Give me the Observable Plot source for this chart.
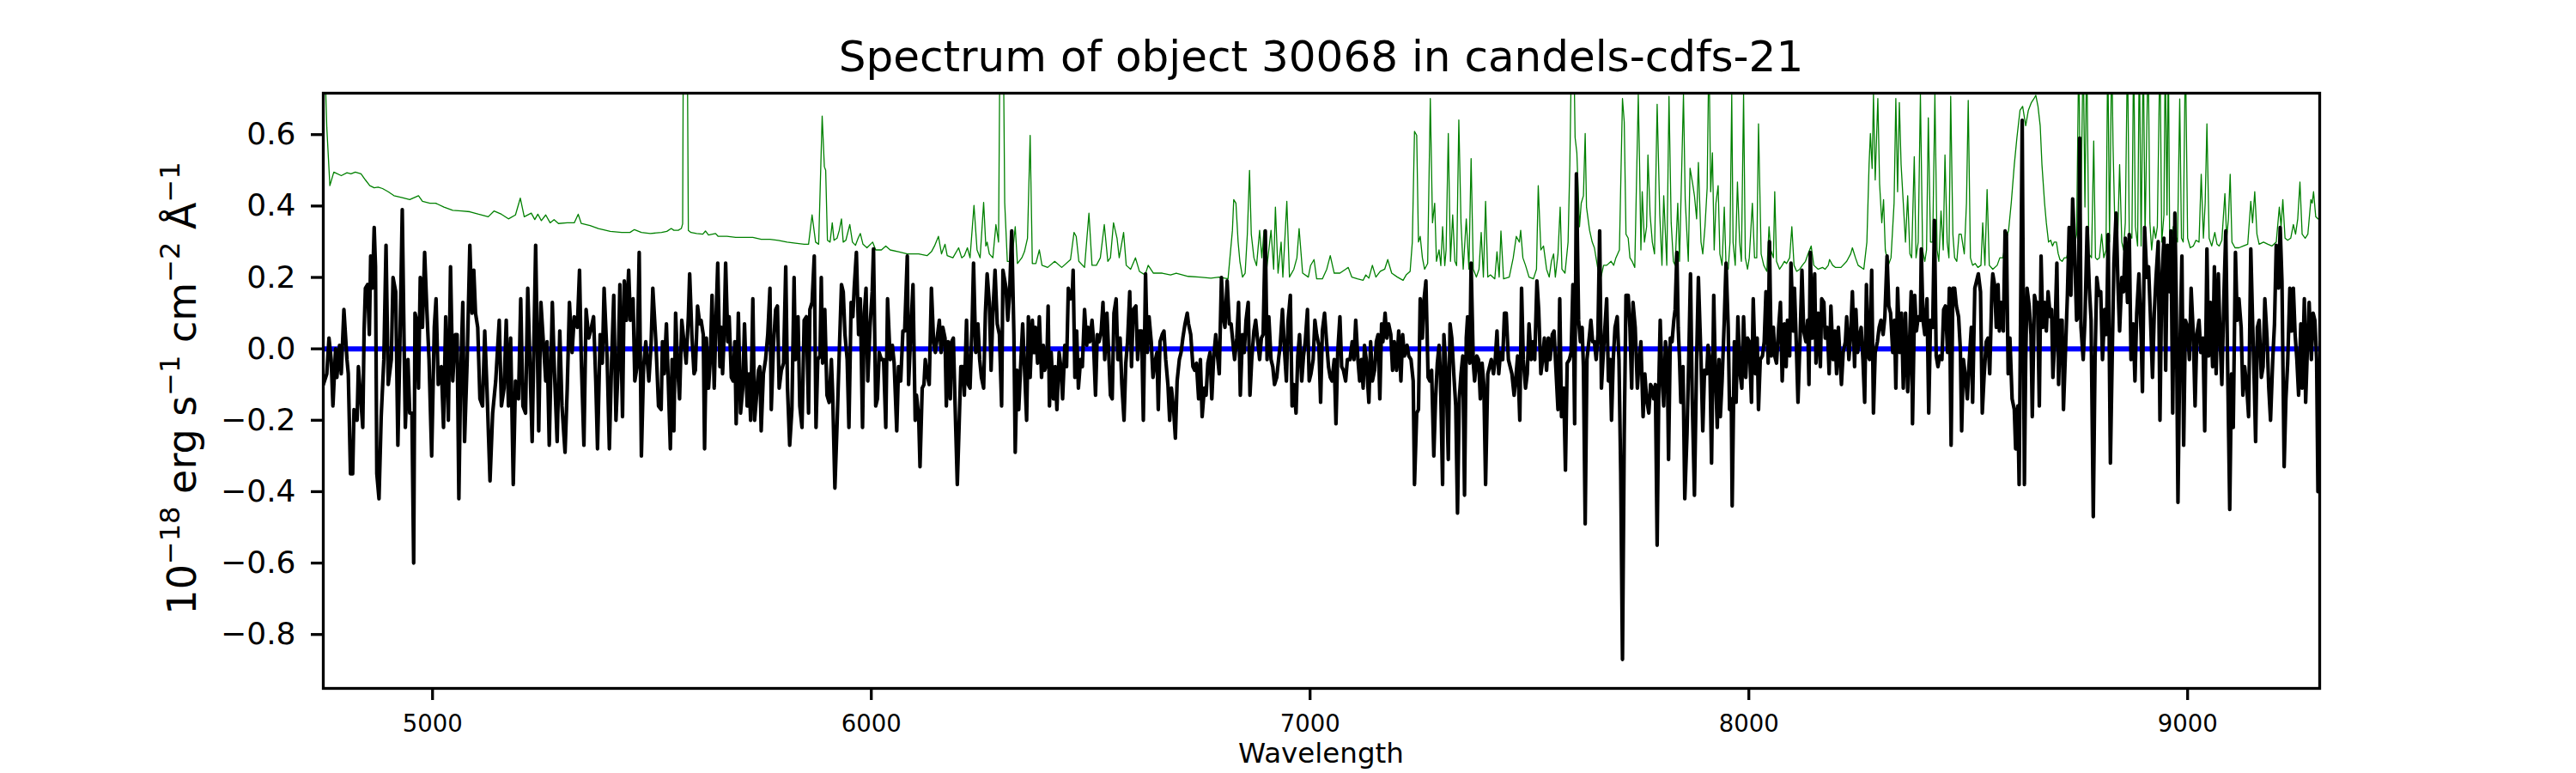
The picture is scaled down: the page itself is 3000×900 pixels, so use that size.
<!DOCTYPE html>
<html>
<head>
<meta charset="utf-8">
<script src="https://cdn.jsdelivr.net/npm/d3@7"></script>
<script src="https://cdn.jsdelivr.net/npm/@observablehq/plot@0.6"></script>
<style>
  html, body { margin: 0; padding: 0; background: #fff; }
  #chart { width: 3000px; height: 900px; position: relative; overflow: hidden; }
</style>
</head>
<body>
<div id="chart"></div>
<script>
// ---------- text ----------
const titleText = "Spectrum of object 30068 in candels-cdfs-21";
const xLabelText = "Wavelength";
const xTicks = [5000, 6000, 7000, 8000, 9000];
const yTicks = [-0.8, -0.6, -0.4, -0.2, 0.0, 0.2, 0.4, 0.6];
const xDomain = [4751, 9301];
const yDomain = [-0.951, 0.716];
const zeroLevel = [0];

// ---------- observed flux (black), [wavelength, flux] ----------
const black1 = [[4751,-0.10],[4759,-0.07],[4764,0.03],[4769,-0.03],[4773,-0.16],[4779,0.00],[4782,-0.08],[4788,0.01],[4792,-0.07],[4798,0.11],[4805,-0.03],[4808,-0.07],[4813,-0.35],[4818,-0.35],[4821,-0.17],[4828,-0.20],[4831,-0.05],[4837,-0.15],[4841,-0.22],[4844,0.05],[4847,0.17],[4852,0.18],[4856,0.04],[4859,0.26],[4863,0.17],[4867,0.34],[4870,0.23],[4873,-0.35],[4878,-0.42],[4883,-0.19],[4889,-0.03],[4894,0.29],[4899,-0.10],[4906,-0.03],[4910,0.20],[4916,0.16],[4921,-0.27],[4925,-0.03],[4931,0.39],[4935,0.03],[4938,-0.22],[4944,-0.03],[4948,-0.18],[4953,-0.18],[4957,-0.60],[4960,0.10],[4964,0.08],[4968,-0.11],[4972,0.20],[4977,0.06],[4982,0.27],[4987,0.11],[4992,-0.03],[4998,-0.30],[5004,0.06],[5008,0.14],[5013,-0.10],[5020,-0.05],[5025,-0.22],[5030,0.09],[5036,-0.20],[5041,0.23],[5046,-0.09],[5052,0.04],[5056,0.04],[5060,-0.42],[5064,-0.08],[5069,0.13],[5073,-0.26],[5079,-0.03],[5085,0.29],[5090,0.10],[5094,0.22],[5098,0.10],[5103,0.06],[5108,-0.14],[5114,-0.16],[5119,0.05],[5124,-0.11],[5131,-0.37],[5137,-0.18],[5144,-0.09],[5152,0.08],[5157,-0.16],[5163,-0.11],[5168,0.08],[5173,-0.16],[5178,0.03],[5184,-0.38],[5189,-0.09],[5196,-0.14],[5201,0.14],[5206,-0.16],[5212,-0.18],[5217,0.17],[5222,-0.04],[5227,-0.26],[5235,0.29],[5242,-0.23],[5247,0.13],[5252,0.03],[5258,-0.09],[5261,0.02],[5266,-0.27],[5273,0.13],[5278,-0.07],[5284,-0.26],[5290,0.05],[5295,-0.16],[5302,-0.29],[5307,-0.11],[5312,0.13],[5318,-0.01],[5323,0.09],[5330,0.06],[5335,0.22],[5339,-0.03],[5345,-0.27],[5350,0.11],[5356,0.03],[5362,0.06],[5367,0.09],[5372,-0.09],[5376,-0.28],[5382,0.04],[5387,-0.04],[5391,0.17],[5398,-0.03],[5403,-0.28],[5408,-0.04],[5413,0.15],[5418,-0.20],[5423,-0.05],[5427,0.18],[5433,-0.19],[5437,0.19],[5442,0.08],[5447,0.22],[5451,0.08],[5457,0.14],[5461,-0.09],[5466,-0.05],[5471,0.27],[5476,-0.30],[5481,-0.05],[5486,0.02],[5493,-0.09],[5498,0.01],[5502,0.17],[5509,0.02],[5515,-0.16],[5521,-0.17]];
const black2 = [[5524,0.02],[5528,-0.07],[5533,0.07],[5537,-0.08],[5542,-0.28],[5546,-0.03],[5550,-0.23],[5554,0.10],[5559,-0.06],[5563,-0.14],[5568,0.08],[5573,0.02],[5578,-0.04],[5583,0.09],[5586,0.21],[5591,0.04],[5596,-0.07],[5599,-0.06],[5604,0.12],[5609,0.07],[5612,0.08],[5617,0.04],[5620,-0.28],[5624,0.03],[5629,-0.11],[5633,-0.03],[5637,0.15],[5642,-0.11],[5645,0.04],[5650,0.24],[5655,-0.05],[5658,0.06],[5661,-0.07],[5664,0.02],[5668,0.24],[5673,0.02],[5676,0.09],[5681,-0.08],[5685,-0.09],[5689,0.02],[5692,-0.21],[5697,0.10],[5702,-0.18],[5707,-0.11],[5711,0.07],[5717,-0.16],[5721,-0.07],[5725,-0.20],[5730,0.14],[5734,-0.20],[5738,-0.14],[5743,-0.06],[5746,-0.05],[5749,-0.23],[5754,-0.07],[5759,-0.03],[5764,0.04],[5769,0.17],[5772,-0.17],[5777,0.01],[5782,0.11],[5786,0.12],[5790,-0.11],[5795,-0.06],[5800,-0.04],[5805,0.23],[5809,-0.11],[5814,-0.27],[5819,-0.17],[5824,0.20],[5827,-0.03],[5833,0.09],[5837,-0.16],[5842,-0.22],[5847,0.08],[5852,0.09],[5857,-0.18],[5860,0.11],[5865,0.13],[5870,0.26],[5874,-0.22],[5878,-0.03],[5883,-0.02],[5886,0.20],[5889,-0.04],[5894,0.11],[5899,-0.13],[5904,-0.15],[5909,-0.03],[5912,-0.13],[5917,-0.39],[5922,-0.21],[5927,-0.01],[5932,0.18],[5936,0.16],[5940,0.04],[5945,-0.03],[5949,-0.22],[5954,0.13],[5958,0.09],[5961,0.17],[5966,0.27],[5971,0.04],[5975,0.14],[5980,-0.22],[5984,0.10],[5988,0.17],[5992,-0.09],[5997,0.06],[6002,0.16],[6005,0.28],[6010,-0.16],[6014,-0.14],[6018,-0.01],[6023,-0.03],[6028,-0.03],[6033,-0.22],[6037,0.14],[6043,-0.03],[6048,0.01],[6052,-0.04],[6058,-0.23],[6062,-0.05],[6067,-0.09],[6072,0.05],[6076,0.05],[6082,0.26],[6085,-0.10],[6090,0.05],[6095,0.18],[6100,-0.20],[6103,-0.13],[6108,-0.19],[6111,-0.33],[6116,-0.11],[6120,-0.10],[6123,-0.03],[6127,-0.07],[6132,-0.10],[6137,0.17],[6142,0.02],[6146,-0.01],[6150,0.03],[6155,0.08],[6159,-0.01],[6163,0.06],[6168,0.03],[6171,-0.16],[6175,0.02],[6180,-0.14],[6183,0.02],[6187,0.03],[6191,-0.16],[6196,-0.38],[6200,-0.22],[6204,-0.05],[6209,-0.05],[6212,-0.13],[6217,0.08],[6221,-0.10],[6225,-0.11],[6230,0.08],[6233,0.24],[6238,-0.01],[6243,0.07],[6247,-0.03],[6251,-0.08],[6256,-0.11],[6260,0.10],[6264,0.21],[6269,0.13],[6273,-0.06],[6277,0.10],[6282,0.22],[6287,0.07],[6292,0.04],[6297,-0.16],[6300,0.22]];
const black3 = [[6307,0.17],[6311,0.08],[6315,0.15],[6320,0.33],[6325,0.04],[6328,-0.29],[6332,-0.06],[6336,-0.17],[6341,-0.03],[6345,0.07],[6349,-0.05],[6354,-0.20],[6358,0.09],[6362,-0.08],[6367,0.08],[6371,-0.01],[6374,0.06],[6379,-0.04],[6383,0.09],[6388,-0.08],[6392,0.01],[6395,-0.06],[6400,-0.04],[6403,0.12],[6406,-0.16],[6410,-0.01],[6415,-0.14],[6419,-0.05],[6423,-0.17],[6428,-0.01],[6432,-0.05],[6436,-0.14],[6441,0.01],[6445,-0.05],[6449,0.17],[6454,0.14],[6458,0.15],[6460,0.22],[6464,-0.08],[6468,0.05],[6472,-0.11],[6477,-0.03],[6481,-0.05],[6486,0.11],[6491,0.01],[6494,0.06],[6498,0.02],[6503,0.08],[6506,0.03],[6511,-0.13],[6515,0.04],[6519,0.02],[6524,0.05],[6528,0.13],[6532,-0.03],[6537,0.10],[6541,-0.01],[6545,-0.13],[6549,-0.14],[6553,0.10],[6558,0.14],[6562,-0.03],[6567,0.03],[6571,-0.10],[6576,-0.20],[6580,-0.04],[6584,0.02],[6589,0.16],[6593,-0.05],[6597,0.11],[6603,0.12],[6607,-0.03],[6611,0.05],[6616,0.05],[6620,-0.20],[6625,0.21],[6629,-0.01],[6633,0.09],[6638,0.02],[6642,-0.08],[6646,-0.04],[6651,-0.01],[6654,-0.17],[6658,0.02],[6663,0.04],[6667,0.05],[6671,-0.03],[6676,-0.10],[6680,-0.20],[6684,-0.11],[6689,-0.17],[6693,-0.25],[6697,-0.09],[6702,-0.03],[6706,-0.01],[6710,0.03],[6715,0.07],[6720,0.10],[6723,0.07],[6728,0.04],[6733,-0.05],[6737,-0.06],[6741,-0.04],[6746,-0.14],[6750,-0.03],[6754,-0.19],[6759,-0.11],[6763,-0.13],[6767,-0.04],[6772,-0.01],[6776,-0.14],[6780,-0.03],[6785,0.04],[6789,-0.02],[6793,-0.07],[6798,0.20],[6802,0.09],[6806,0.06],[6811,0.19],[6816,0.07],[6820,0.07],[6824,0.02],[6828,-0.03],[6833,0.03],[6837,0.13],[6841,-0.13],[6846,0.04],[6850,-0.01],[6854,0.08],[6859,0.13],[6863,-0.13],[6867,-0.03],[6872,0.05],[6876,0.08],[6880,0.03],[6885,-0.03],[6889,0.03],[6893,0.04],[6898,0.33],[6902,-0.03],[6906,0.09],[6911,-0.03],[6915,-0.05],[6919,-0.10],[6924,-0.08],[6929,-0.02],[6932,0.01],[6937,0.11],[6942,-0.01],[6946,-0.09],[6950,0.08],[6955,0.15],[6959,-0.16],[6963,-0.10],[6968,-0.18],[6972,-0.02],[6976,0.04],[6981,-0.09],[6985,-0.02],[6989,0.02],[6994,0.11],[6998,-0.09],[7002,-0.07],[7007,-0.03],[7011,0.08],[7015,0.04],[7020,0.01],[7024,-0.15],[7028,0.05],[7033,0.10],[7037,0.03],[7042,-0.05],[7046,-0.08],[7050,-0.09],[7055,-0.03],[7059,-0.21],[7063,-0.01],[7068,0.09],[7072,-0.05],[7076,-0.06],[7081,-0.09],[7085,-0.03]];
const black4 = [[7091,-0.03],[7096,0.02],[7100,-0.03],[7104,0.08],[7109,-0.03],[7113,-0.09],[7117,-0.03],[7121,-0.11],[7124,0.01],[7128,-0.03],[7134,-0.15],[7138,0.02],[7142,-0.09],[7147,-0.06],[7151,0.02],[7155,0.04],[7159,-0.14],[7163,0.07],[7166,0.02],[7171,0.10],[7175,0.03],[7179,0.07],[7184,0.04],[7188,-0.06],[7192,0.02],[7197,-0.06],[7202,0.05],[7207,-0.09],[7211,0.04],[7215,-0.02],[7221,0.01],[7225,-0.02],[7230,-0.03],[7235,-0.09],[7238,-0.38],[7243,-0.18],[7247,-0.17],[7251,0.14],[7256,0.03],[7259,0.13],[7264,0.19],[7269,-0.08],[7273,-0.09],[7277,-0.06],[7282,-0.30],[7286,-0.14],[7290,-0.04],[7294,0.01],[7297,-0.07],[7302,-0.38],[7305,0.04],[7310,-0.06],[7315,-0.31],[7319,0.07],[7323,0.03],[7328,-0.08],[7332,-0.16],[7336,-0.46],[7340,-0.14],[7344,-0.07],[7348,-0.02],[7352,-0.41],[7356,0.03],[7359,0.09],[7364,-0.04],[7367,0.24],[7372,-0.04],[7375,-0.09],[7380,-0.02],[7384,-0.03],[7388,-0.14],[7392,-0.04],[7396,-0.10],[7400,-0.38],[7405,-0.07],[7409,-0.05],[7413,-0.03],[7418,-0.07],[7422,-0.03],[7426,0.05],[7430,-0.07],[7434,-0.01],[7439,-0.03],[7443,0.10],[7447,0.10],[7452,-0.03],[7456,-0.05],[7460,-0.07],[7465,-0.13],[7469,-0.08],[7473,-0.02],[7478,-0.20],[7482,0.17],[7486,-0.03],[7491,-0.11],[7495,-0.07],[7499,0.07],[7504,-0.03],[7508,0.02],[7512,-0.03],[7517,0.19],[7521,0.11],[7526,-0.07],[7530,-0.03],[7534,0.03],[7539,-0.06],[7543,0.03],[7547,-0.03],[7552,0.04],[7556,0.05],[7560,-0.05],[7565,-0.17],[7569,0.14],[7573,-0.19],[7578,-0.11],[7582,-0.34],[7586,-0.04],[7591,-0.03],[7595,-0.01],[7599,0.18],[7603,-0.21],[7607,0.49],[7612,0.08],[7616,0.02],[7620,0.06],[7623,-0.05],[7627,-0.49],[7631,-0.03],[7637,0.04],[7640,0.08],[7644,0.02],[7648,0.02],[7652,-0.03],[7656,0.04],[7660,0.33],[7664,-0.11],[7668,-0.02],[7672,0.06],[7676,0.14],[7680,-0.09],[7684,-0.03],[7687,-0.20],[7691,-0.03],[7695,0.06],[7700,0.09],[7704,-0.03],[7708,-0.35],[7712,-0.87],[7716,-0.24],[7720,0.15],[7725,0.15],[7729,0.06],[7733,-0.11],[7736,0.13],[7741,0.06],[7746,-0.11],[7749,-0.05],[7754,0.02],[7759,-0.19],[7763,-0.07],[7767,-0.14],[7772,-0.18],[7776,-0.10],[7780,-0.11],[7783,-0.14],[7787,-0.10],[7791,-0.55],[7795,-0.09],[7798,0.08],[7802,-0.08],[7806,-0.16],[7810,0.02],[7814,-0.02],[7817,-0.31],[7821,0.03],[7825,0.02],[7829,0.08],[7832,0.11],[7836,0.27],[7839,0.06],[7842,-0.03],[7845,-0.15],[7850,-0.05],[7854,-0.42],[7859,-0.24],[7863,-0.03],[7867,0.21]];
const black5 = [[7871,-0.14],[7876,-0.41],[7881,-0.03],[7885,0.20],[7891,-0.03],[7895,-0.23],[7899,-0.06],[7904,-0.07],[7907,0.01],[7911,-0.03],[7915,-0.32],[7920,0.15],[7923,-0.03],[7928,-0.22],[7932,-0.03],[7935,-0.19],[7939,-0.09],[7944,0.08],[7948,0.24],[7953,0.06],[7956,-0.17],[7960,-0.14],[7962,-0.44],[7967,0.02],[7971,-0.15],[7975,0.09],[7980,-0.07],[7984,-0.11],[7988,0.09],[7993,-0.08],[7997,0.03],[8001,0.02],[8006,-0.15],[8010,0.14],[8015,-0.07],[8019,0.03],[8022,-0.17],[8026,-0.03],[8031,-0.02],[8035,0.02],[8039,0.16],[8044,-0.04],[8047,0.30],[8051,-0.02],[8056,0.06],[8059,-0.02],[8063,-0.04],[8068,0.06],[8072,0.13],[8076,-0.09],[8081,0.07],[8085,-0.05],[8088,0.08],[8093,-0.02],[8096,0.24],[8101,0.05],[8104,0.17],[8108,0.02],[8112,-0.15],[8117,0.04],[8121,0.22],[8125,0.05],[8130,0.02],[8134,0.08],[8137,-0.10],[8140,0.27],[8145,0.03],[8150,0.21],[8153,-0.04],[8158,0.10],[8163,-0.05],[8166,0.14],[8171,0.13],[8174,0.03],[8179,0.06],[8183,-0.07],[8187,0.12],[8192,-0.03],[8196,0.05],[8200,-0.07],[8204,0.06],[8208,-0.03],[8211,-0.10],[8215,-0.01],[8220,0.02],[8223,0.09],[8228,-0.03],[8232,0.04],[8236,0.16],[8241,-0.05],[8244,0.11],[8248,-0.01],[8253,0.04],[8256,0.06],[8260,-0.03],[8264,-0.15],[8268,0.18],[8272,-0.02],[8275,-0.03],[8280,0.22],[8284,-0.18],[8288,-0.01],[8293,0.02],[8297,0.06],[8301,0.08],[8306,0.04],[8310,0.09],[8315,0.26],[8319,0.12],[8323,0.10],[8328,-0.01],[8332,0.08],[8335,-0.11],[8339,0.17],[8344,-0.01],[8348,0.10],[8352,-0.11],[8357,0.10],[8362,-0.12],[8365,-0.03],[8370,0.16],[8373,-0.21],[8378,0.15],[8382,0.05],[8386,0.09],[8391,0.08],[8393,0.28],[8397,0.08],[8401,0.04],[8406,0.14],[8410,-0.18],[8414,0.08],[8419,0.06],[8423,0.36],[8427,-0.02],[8431,-0.05],[8435,-0.02],[8440,-0.03],[8444,0.11],[8448,0.12],[8453,-0.01],[8457,0.17],[8461,-0.27],[8465,0.17],[8469,0.17],[8473,0.12],[8478,0.09],[8482,0.00],[8485,-0.23],[8489,-0.03],[8494,-0.08],[8498,-0.14],[8502,-0.04],[8507,0.06],[8510,-0.15],[8515,0.17],[8519,0.19],[8523,0.21],[8528,0.16],[8532,-0.18],[8536,-0.08],[8541,0.02],[8545,0.03],[8549,-0.07],[8554,0.17],[8556,0.21],[8560,0.18],[8564,0.06],[8568,0.18],[8571,0.05],[8575,0.13],[8580,0.05],[8584,0.33],[8587,0.32],[8591,-0.07],[8595,0.03],[8600,-0.14],[8605,-0.17],[8608,-0.28],[8613,-0.16],[8616,-0.38],[8620,0.19],[8623,0.64],[8628,-0.38],[8631,-0.03],[8634,0.17],[8639,0.12],[8643,0.04],[8646,-0.19],[8651,0.15],[8654,0.13]];
const black6 = [[8658,0.13],[8662,-0.16],[8666,0.26],[8670,0.06],[8674,0.13],[8678,0.05],[8682,0.16],[8687,0.09],[8690,0.11],[8693,-0.08],[8697,0.02],[8702,0.24],[8706,-0.10],[8710,0.08],[8714,0.08],[8717,-0.17],[8721,-0.03],[8726,0.15],[8730,0.34],[8734,0.15],[8738,0.42],[8742,0.30],[8747,0.08],[8751,0.09],[8754,0.59],[8757,0.06],[8762,-0.03],[8766,0.08],[8771,0.34],[8776,0.17],[8780,0.08],[8785,-0.47],[8789,-0.03],[8793,0.20],[8798,0.15],[8802,0.16],[8806,-0.03],[8811,0.11],[8815,0.04],[8819,0.32],[8824,-0.32],[8828,-0.03],[8832,0.24],[8837,0.38],[8841,0.19],[8845,0.05],[8850,0.20],[8854,0.16],[8858,0.31],[8863,0.13],[8867,0.32],[8871,-0.03],[8876,0.07],[8880,-0.09],[8884,0.10],[8889,0.21],[8894,0.04],[8897,-0.12],[8902,0.34],[8907,0.20],[8911,0.23],[8915,0.10],[8920,-0.08],[8924,0.10],[8928,0.20],[8933,0.30],[8937,-0.20],[8941,0.19],[8946,0.31],[8950,-0.06],[8954,0.29],[8959,0.16],[8962,0.33],[8966,-0.18],[8971,0.38],[8974,0.15],[8978,-0.43],[8982,-0.03],[8987,0.26],[8991,-0.27],[8995,0.08],[9000,0.06],[9004,-0.03],[9008,0.17],[9013,0.04],[9017,-0.16],[9021,0.04],[9026,0.08],[9030,-0.01],[9035,0.03],[9039,-0.23],[9044,0.28],[9048,-0.02],[9052,0.13],[9057,-0.05],[9061,0.23],[9065,-0.07],[9070,0.21],[9074,0.03],[9078,-0.10],[9083,0.16],[9087,0.33],[9091,-0.03],[9096,-0.45],[9100,-0.07],[9104,-0.22],[9109,0.27],[9113,0.08],[9117,0.14],[9122,0.06],[9126,-0.13],[9130,-0.05],[9135,-0.11],[9139,-0.19],[9144,0.28],[9148,0.08],[9152,-0.10],[9155,-0.26],[9159,0.06],[9163,0.08],[9168,-0.08],[9172,-0.05],[9176,0.14],[9181,0.03],[9185,-0.11],[9189,-0.20],[9194,-0.03],[9198,0.07],[9202,0.29],[9207,0.17],[9211,0.34],[9215,0.19],[9220,-0.33],[9224,-0.14],[9228,-0.04],[9233,0.17],[9237,0.05],[9241,0.17],[9245,0.04],[9249,-0.03],[9253,-0.13],[9258,0.07],[9261,-0.11],[9266,0.14],[9269,-0.15],[9274,0.04],[9277,0.13],[9282,-0.03],[9286,0.10],[9290,0.08],[9294,-0.03],[9297,-0.40]];

// ---------- model / sky (green), [wavelength, flux] ----------
const green1 = [[4751,0.95],[4759,0.62],[4766,0.457],[4775,0.495],[4792,0.485],[4805,0.493],[4814,0.49],[4824,0.495],[4837,0.49],[4847,0.473],[4857,0.457],[4867,0.451],[4876,0.453],[4886,0.449],[4899,0.44],[4912,0.429],[4929,0.424],[4948,0.418],[4968,0.429],[4977,0.413],[4994,0.408],[5007,0.408],[5026,0.397],[5046,0.388],[5066,0.386],[5085,0.384],[5105,0.377],[5127,0.370],[5140,0.386],[5157,0.377],[5173,0.364],[5189,0.375],[5200,0.422],[5209,0.370],[5225,0.380],[5233,0.362],[5240,0.377],[5248,0.359],[5258,0.375],[5268,0.353],[5277,0.362],[5287,0.351],[5307,0.353],[5323,0.353],[5332,0.377],[5339,0.351],[5359,0.345],[5378,0.337],[5405,0.329],[5431,0.326],[5450,0.326],[5460,0.334],[5476,0.326],[5496,0.323],[5522,0.326]];
const green2 = [[5534,0.329],[5544,0.337],[5550,0.332],[5560,0.332],[5567,0.337],[5570,0.35],[5572,1.0],[5580,1.0],[5583,0.332],[5589,0.326],[5602,0.323],[5616,0.321],[5622,0.330],[5629,0.319],[5645,0.323],[5651,0.315],[5671,0.315],[5691,0.312],[5710,0.312],[5730,0.312],[5749,0.307],[5769,0.307],[5788,0.304],[5808,0.299],[5827,0.296],[5847,0.293],[5857,0.293],[5865,0.375],[5873,0.299],[5880,0.293],[5888,0.652],[5893,0.510],[5896,0.500],[5900,0.304],[5906,0.299],[5911,0.353],[5915,0.304],[5922,0.310],[5927,0.332],[5932,0.364],[5936,0.299],[5942,0.304],[5951,0.348],[5957,0.299],[5964,0.290],[5970,0.310],[5975,0.323],[5981,0.293],[5990,0.283],[6003,0.299],[6010,0.277],[6023,0.277],[6033,0.288],[6043,0.277],[6062,0.272],[6082,0.266],[6108,0.266],[6127,0.261],[6137,0.272],[6144,0.288],[6153,0.315],[6160,0.266],[6168,0.293],[6173,0.261],[6186,0.255],[6199,0.283],[6206,0.255],[6212,0.261],[6219,0.283],[6225,0.255],[6234,0.402],[6241,0.277],[6248,0.255],[6256,0.410],[6261,0.288],[6264,0.299],[6269,0.266],[6277,0.255],[6284,0.348],[6290,0.299],[6294,1.0],[6300,1.0]];
const green3 = [[6304,0.41],[6310,0.245],[6320,0.245],[6328,0.342],[6333,0.239],[6343,0.255],[6349,0.272],[6356,0.31],[6362,0.598],[6367,0.239],[6375,0.239],[6383,0.277],[6389,0.234],[6402,0.228],[6418,0.245],[6434,0.228],[6454,0.250],[6462,0.326],[6467,0.315],[6473,0.245],[6486,0.228],[6496,0.380],[6503,0.234],[6513,0.234],[6522,0.255],[6531,0.348],[6539,0.245],[6545,0.255],[6552,0.353],[6560,0.310],[6565,0.255],[6575,0.326],[6581,0.234],[6591,0.223],[6602,0.255],[6611,0.217],[6624,0.207],[6631,0.234],[6643,0.212],[6663,0.212],[6682,0.207],[6695,0.212],[6722,0.203],[6748,0.201],[6774,0.198],[6793,0.201],[6813,0.196],[6823,0.332],[6826,0.418],[6831,0.408],[6836,0.299],[6840,0.245],[6846,0.201],[6852,0.212],[6857,0.321],[6862,0.500],[6866,0.321],[6872,0.255],[6878,0.233],[6885,0.332],[6890,0.255],[6895,0.332],[6901,0.223],[6911,0.332],[6917,0.223],[6921,0.397],[6927,0.212],[6934,0.299],[6938,0.201],[6947,0.413],[6953,0.201],[6963,0.223],[6970,0.255],[6975,0.337],[6983,0.212],[6996,0.201],[7001,0.233],[7009,0.250],[7015,0.196],[7028,0.196],[7038,0.223],[7046,0.261],[7055,0.212],[7068,0.212],[7081,0.223],[7087,0.228]];
const green4 = [[7095,0.201],[7108,0.196],[7121,0.192],[7127,0.207],[7134,0.198],[7142,0.234],[7150,0.201],[7160,0.217],[7170,0.223],[7177,0.250],[7186,0.212],[7199,0.201],[7212,0.192],[7219,0.207],[7228,0.217],[7233,0.299],[7238,0.609],[7243,0.598],[7247,0.299],[7251,0.315],[7256,0.255],[7261,0.223],[7268,0.239],[7274,0.701],[7279,0.353],[7284,0.408],[7288,0.245],[7294,0.277],[7298,0.233],[7302,0.342],[7307,0.233],[7310,0.277],[7315,0.603],[7320,0.245],[7325,0.375],[7330,0.245],[7334,0.233],[7339,0.641],[7344,0.353],[7349,0.223],[7356,0.364],[7362,0.223],[7367,0.533],[7372,0.223],[7379,0.201],[7385,0.223],[7390,0.326],[7395,0.201],[7400,0.413],[7405,0.201],[7411,0.207],[7421,0.196],[7426,0.272],[7431,0.201],[7435,0.330],[7441,0.196],[7454,0.201],[7463,0.255],[7470,0.315],[7477,0.299],[7480,0.332],[7485,0.255],[7491,0.234],[7499,0.201],[7509,0.196],[7516,0.223],[7520,0.457],[7526,0.277],[7532,0.288],[7539,0.223],[7545,0.201],[7550,0.245],[7555,0.266],[7559,0.201],[7565,0.266],[7570,0.397],[7574,0.223],[7581,0.212],[7588,0.299],[7592,0.516],[7596,0.85],[7601,0.85],[7604,0.592],[7608,0.549],[7614,0.342],[7618,0.408],[7623,0.429],[7627,0.603],[7630,0.397],[7637,0.332],[7643,0.299],[7648,0.283],[7656,0.223],[7663,0.201],[7669,0.234],[7676,0.234],[7686,0.245],[7692,0.234],[7697,0.255],[7705,0.277],[7712,0.701],[7716,0.636],[7720,0.321],[7725,0.310],[7729,0.255],[7734,0.245],[7740,0.228],[7748,0.712],[7751,0.516],[7754,0.277],[7757,0.440],[7762,0.299],[7767,0.342],[7770,0.543],[7775,0.375],[7780,0.299],[7785,0.266],[7791,0.685],[7797,0.375],[7802,0.234],[7806,0.429],[7813,0.234],[7818,0.707],[7823,0.353],[7828,0.245],[7832,0.234],[7838,0.408],[7842,0.245],[7851,0.712],[7855,0.418],[7862,0.245],[7866,0.506],[7872,0.462]];
const green5 = [[7876,0.429],[7881,0.364],[7885,0.522],[7891,0.299],[7895,0.266],[7900,0.342],[7905,0.451],[7909,0.85],[7913,0.440],[7917,0.549],[7921,0.277],[7925,0.408],[7930,0.457],[7934,0.266],[7939,0.234],[7944,0.397],[7948,0.234],[7953,0.223],[7957,0.299],[7961,0.712],[7964,0.299],[7969,0.234],[7974,0.467],[7979,0.299],[7983,0.245],[7988,0.712],[7992,0.255],[7997,0.223],[8001,0.255],[8008,0.408],[8013,0.255],[8018,0.255],[8022,0.630],[8028,0.266],[8034,0.234],[8041,0.217],[8046,0.342],[8050,0.277],[8056,0.255],[8059,0.440],[8063,0.245],[8070,0.223],[8076,0.234],[8081,0.245],[8086,0.239],[8093,0.255],[8098,0.342],[8103,0.234],[8109,0.217],[8116,0.223],[8122,0.234],[8129,0.245],[8135,0.266],[8142,0.288],[8148,0.234],[8158,0.223],[8168,0.228],[8174,0.223],[8181,0.234],[8184,0.250],[8191,0.234],[8197,0.228],[8210,0.228],[8223,0.245],[8232,0.266],[8236,0.283],[8243,0.255],[8249,0.234],[8262,0.223],[8269,0.299],[8274,0.516],[8277,0.603],[8281,0.505],[8284,0.712],[8288,0.473],[8294,0.701],[8298,0.462],[8303,0.353],[8307,0.418],[8311,0.277],[8318,0.234],[8324,0.255],[8331,0.408],[8335,0.701],[8339,0.440],[8343,0.690],[8347,0.516],[8352,0.408],[8357,0.299],[8362,0.429],[8367,0.266],[8371,0.255],[8377,0.538],[8381,0.255],[8386,0.299],[8391,0.712],[8396,0.277],[8401,0.245],[8405,0.277],[8409,0.647],[8414,0.299],[8419,0.299],[8424,0.712],[8429,0.277],[8433,0.245],[8438,0.386],[8443,0.277],[8447,0.543],[8452,0.299],[8456,0.255],[8460,0.707],[8465,0.321],[8469,0.255],[8474,0.245],[8479,0.321],[8484,0.321],[8491,0.266],[8496,0.408],[8500,0.696],[8505,0.255],[8510,0.234],[8516,0.239],[8522,0.228],[8529,0.234],[8533,0.353],[8538,0.234],[8543,0.446],[8548,0.234],[8556,0.223],[8566,0.234],[8572,0.255],[8579,0.255],[8585,0.299],[8592,0.332],[8598,0.408],[8605,0.516],[8611,0.592],[8618,0.668],[8624,0.679],[8631,0.625],[8637,0.668],[8644,0.690],[8650,0.701]];
const green6 = [[8654,0.71],[8659,0.679],[8664,0.625],[8668,0.516],[8674,0.408],[8678,0.353],[8683,0.299],[8688,0.304],[8692,0.288],[8696,0.299],[8701,0.299],[8705,0.267],[8709,0.250],[8714,0.245],[8719,0.255],[8724,0.255],[8729,0.277],[8736,0.299],[8742,0.288],[8747,0.321],[8752,0.85],[8756,0.321],[8762,0.85],[8766,0.397],[8770,0.85],[8775,0.266],[8781,0.255],[8786,0.582],[8790,0.255],[8794,0.250],[8799,0.255],[8804,0.321],[8809,0.255],[8814,0.277],[8818,0.85],[8822,0.299],[8827,0.85],[8830,0.571],[8835,0.299],[8840,0.277],[8845,0.516],[8850,0.299],[8854,0.277],[8858,0.353],[8863,0.85],[8867,0.321],[8873,0.310],[8877,0.85],[8881,0.342],[8886,0.288],[8890,0.85],[8894,0.288],[8899,0.85],[8903,0.310],[8910,0.85],[8914,0.353],[8918,0.277],[8923,0.342],[8927,0.310],[8931,0.342],[8937,0.85],[8941,0.299],[8946,0.375],[8949,0.85],[8953,0.375],[8956,0.85],[8959,0.321],[8964,0.288],[8967,0.342],[8972,0.321],[8977,0.299],[8982,0.70],[8986,0.310],[8990,0.299],[8995,0.85],[9000,0.310],[9006,0.283],[9013,0.288],[9019,0.304],[9026,0.299],[9031,0.489],[9036,0.310],[9040,0.408],[9044,0.630],[9049,0.310],[9055,0.288],[9062,0.326],[9067,0.293],[9072,0.288],[9078,0.304],[9085,0.435],[9089,0.310],[9093,0.364],[9097,0.489],[9101,0.299],[9108,0.283],[9117,0.283],[9127,0.288],[9137,0.293],[9144,0.413],[9148,0.353],[9153,0.440],[9158,0.321],[9163,0.293],[9173,0.299],[9183,0.293],[9192,0.288],[9202,0.299],[9209,0.397],[9213,0.342],[9217,0.418],[9222,0.310],[9228,0.304],[9235,0.310],[9241,0.348],[9246,0.321],[9251,0.364],[9256,0.467],[9261,0.321],[9268,0.310],[9274,0.321],[9281,0.418],[9284,0.408],[9287,0.440],[9292,0.370],[9297,0.364]];

// ---------- build ----------
const blackSpec = [...black1, ...black2, ...black3, ...black4, ...black5, ...black6]
  .map(([w, f]) => ({wave: w, flux: f}));
const greenSpec = [...green1, ...green2, ...green3, ...green4, ...green5, ...green6]
  .map(([w, f]) => ({wave: w, flux: f}));

const FONT = "DejaVu Sans, sans-serif";

const chart = Plot.plot({
  width: 3000,
  height: 900,
  marginLeft: 376,
  marginRight: 299,
  marginTop: 108,
  marginBottom: 99,
  style: {fontFamily: FONT, color: "black", background: "white", overflow: "visible"},
  x: {domain: xDomain},
  y: {domain: yDomain},
  marks: [
    Plot.line(greenSpec, {x: "wave", y: "flux", stroke: "#008000", strokeWidth: 1.3, clip: true}),
    Plot.ruleY(zeroLevel, {stroke: "#0000ff", strokeWidth: 6}),
    Plot.line(blackSpec, {x: "wave", y: "flux", stroke: "black", strokeWidth: 4.2, clip: true}),
    Plot.frame({stroke: "black", strokeWidth: 3.3}),
    Plot.axisX({ticks: xTicks, tickFormat: d => String(d), tickSize: 14, tickPadding: 16.7,
                fontSize: 27.5, strokeWidth: 3.3, label: null}),
    Plot.axisY({ticks: yTicks, tickFormat: d3.format(".1f"), tickSize: 14, tickPadding: 18,
                fontSize: 36, strokeWidth: 3.3, label: null})
  ]
});

document.getElementById("chart").appendChild(chart);

const svg = d3.select(chart);
const cx = (376 + (3000 - 299)) / 2;

// Title
svg.append("text")
  .attr("x", cx).attr("y", 83.3)
  .attr("text-anchor", "middle")
  .attr("font-family", FONT).attr("font-size", 50).attr("fill", "black")
  .text(titleText);

// X label
svg.append("text")
  .attr("x", cx).attr("y", 887.7)
  .attr("text-anchor", "middle")
  .attr("font-family", FONT).attr("font-size", 32.5).attr("fill", "black")
  .text(xLabelText);

// Y label with superscripts
const yl = svg.append("text")
  .attr("transform", "translate(228,452) rotate(-90)")
  .attr("text-anchor", "middle")
  .attr("font-family", FONT).attr("font-size", 46).attr("fill", "black");
const parts = [
  ["10", false], ["\u221218", true], [" erg s", false], ["\u22121", true],
  [" cm", false], ["\u22122", true], [" \u00C5", false], ["\u22121", true]
];
parts.forEach(([t, sup]) => {
  yl.append("tspan")
    .attr("font-size", sup ? 32 : 46)
    .attr("baseline-shift", sup ? "19px" : null)
    .text(t);
});
</script>
</body>
</html>
